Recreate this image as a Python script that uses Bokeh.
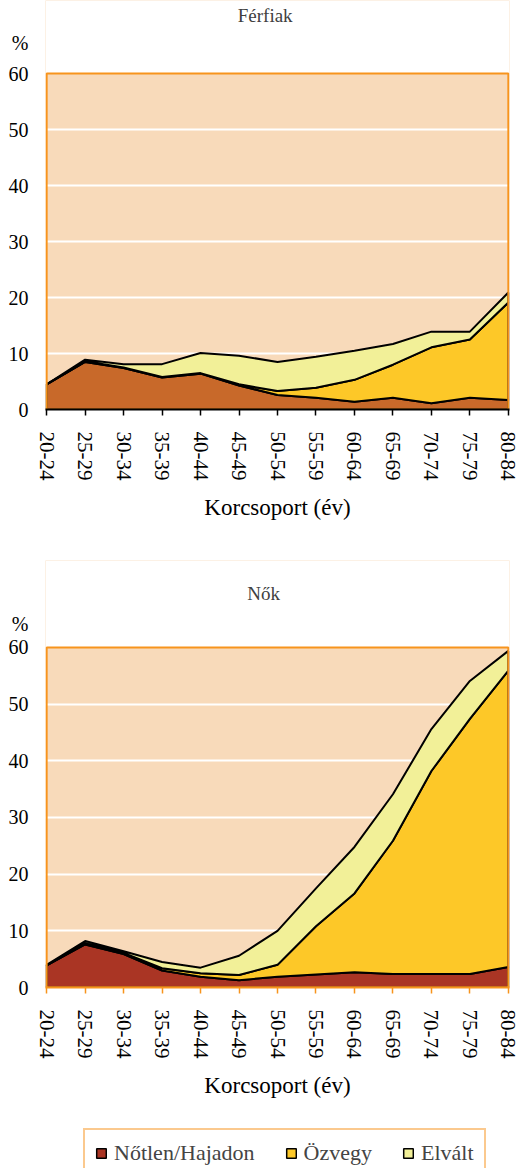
import numpy as np
from bokeh.plotting import figure
from bokeh.layouts import column
from bokeh.models import FixedTicker, Label, Legend, LegendItem, ColumnDataSource
from bokeh.embed import file_html
from bokeh.resources import INLINE

categories = ["20-24", "25-29", "30-34", "35-39", "40-44", "45-49", "50-54",
              "55-59", "60-64", "65-69", "70-74", "75-79", "80-84"]

men_notlen = [4.5, 8.5, 7.4, 5.7, 6.4, 4.3, 2.6, 2.1, 1.4, 2.1, 1.1, 2.1, 1.7]
men_ozvegy = [0.0, 0.1, 0.1, 0.1, 0.1, 0.2, 0.7, 1.8, 3.9, 5.9, 10.0, 10.4, 17.4]
men_elvalt = [0.0, 0.3, 0.6, 2.3, 3.6, 5.1, 5.2, 5.5, 5.2, 3.7, 2.8, 1.4, 1.8]

women_hajadon = [3.9, 7.6, 5.9, 3.0, 1.9, 1.3, 1.9, 2.3, 2.7, 2.4, 2.4, 2.4, 3.6]
women_ozvegy = [0.0, 0.2, 0.2, 0.4, 0.6, 0.9, 2.1, 8.5, 13.9, 23.5, 35.8, 45.0, 52.3]
women_elvalt = [0.1, 0.4, 0.3, 1.1, 1.0, 3.4, 6.0, 6.7, 8.2, 8.2, 7.4, 6.7, 3.5]

y_ticks = [0, 10, 20, 30, 40, 50, 60]
series_names = ["Nőtlen/Hajadon", "Özvegy", "Elvált"]
titles = ["Férfiak", "Nők"]
unit_label = "%"

FONT = "Liberation Serif"
ORANGE = "#F7941D"
BG = "#F8DABA"
C_MEN = "#C8692A"
C_WOMEN = "#AA3524"
C_OZV = "#FDC828"
C_ELV = "#F2F098"
XPAD = 0.03


def make_chart(title, series, colors, height, y_end, bottom, left, right,
               axis_color, unit_y, title_x, title_y):
    n = len(categories)
    x0, x1 = -XPAD, n - 1 + XPAD
    p = figure(width=517, height=height, x_range=(x0, x1),
               y_range=(0, y_end), output_backend="svg", toolbar_location=None,
               min_border_top=0, min_border_bottom=bottom,
               min_border_left=left, min_border_right=right)
    p.background_fill_color = BG
    p.border_fill_color = "white"
    p.outline_line_color = None

    ymax = y_ticks[-1]
    # white area above the plotting box (title / unit region)
    p.quad(left=[x0], right=[x1], bottom=[ymax], top=[y_end],
           fill_color="white", line_color=None)

    x = np.arange(n, dtype=float)
    lower = np.zeros(n)
    for vals, col in zip(series, colors):
        upper = lower + np.array(vals, dtype=float)
        xs = np.concatenate([x, x[::-1]])
        ys = np.concatenate([upper, lower[::-1]])
        p.patch(xs, ys, fill_color=col, line_color="black", line_width=2)
        lower = upper

    # orange plot-area border
    p.quad(left=[0], right=[n - 1], bottom=[0], top=[ymax],
           fill_color=None, line_color=ORANGE, line_width=2)

    p.xgrid.visible = False
    p.ygrid.grid_line_color = "white"
    p.ygrid.grid_line_width = 2
    p.ygrid.ticker = FixedTicker(ticks=y_ticks[1:-1])

    p.yaxis.ticker = FixedTicker(ticks=y_ticks + [unit_y])
    p.yaxis.major_label_overrides = {unit_y: unit_label}
    p.yaxis.axis_line_color = None
    p.yaxis.major_tick_line_color = None
    p.yaxis.minor_tick_line_color = None
    p.yaxis.major_tick_out = 0
    p.yaxis.major_tick_in = 0
    p.yaxis.minor_tick_out = 0
    p.yaxis.minor_tick_in = 0
    p.yaxis.major_label_standoff = 17
    p.yaxis.major_label_text_font = FONT
    p.yaxis.major_label_text_font_size = "20px"
    p.yaxis.major_label_text_color = "black"

    p.xaxis.ticker = FixedTicker(ticks=list(range(n)))
    p.xaxis.major_label_overrides = {i: c for i, c in enumerate(categories)}
    p.xaxis.major_label_orientation = "vertical"
    p.xaxis.axis_line_color = axis_color
    p.xaxis.axis_line_width = 2
    p.xaxis.major_tick_line_color = axis_color
    p.xaxis.major_tick_line_width = 1.5
    p.xaxis.major_tick_out = 6
    p.xaxis.major_tick_in = 0
    p.xaxis.minor_tick_out = 0
    p.xaxis.minor_tick_in = 0
    p.xaxis.minor_tick_line_color = None
    p.xaxis.major_label_standoff = 16
    p.xaxis.major_label_text_font = FONT
    p.xaxis.major_label_text_font_size = "21px"
    p.xaxis.major_label_text_color = "black"
    p.xaxis.axis_label = "Korcsoport (év)"
    p.xaxis.axis_label_text_font = FONT
    p.xaxis.axis_label_text_font_size = "23px"
    p.xaxis.axis_label_text_font_style = "normal"
    p.xaxis.axis_label_text_color = "black"
    p.xaxis.axis_label_standoff = 12

    p.add_layout(Label(x=title_x, y=title_y, text=title, text_font=FONT,
                       text_font_size="19px", text_color="#404040",
                       text_align="center", text_baseline="middle"))
    return p


# top chart: frame 409 px tall, 60 units = 336 px
p1 = make_chart(titles[0], [men_notlen, men_ozvegy, men_elvalt],
                [C_MEN, C_OZV, C_ELV], 560, 409 / 5.6, 151, 44, 8, "black",
                65.5, 5.68, 70.3)

# bottom chart: frame 427 px tall, 60 units = 340 px
p2 = make_chart(titles[1], [women_hajadon, women_ozvegy, women_elvalt],
                [C_WOMEN, C_OZV, C_ELV], 552, 427 / 5.667, 125, 45, 6, ORANGE,
                64.2, 5.64, 69.5)

# legend strip
p3 = figure(width=517, height=56, x_range=(0, 1), y_range=(0, 1),
            x_axis_type=None, y_axis_type=None, output_backend="svg",
            toolbar_location=None, min_border=0)
p3.outline_line_color = None
p3.grid.visible = False
p3.background_fill_color = "white"

legend_items = []
for name, col in zip(series_names, [C_WOMEN, C_OZV, C_ELV]):
    # legend swatch renderer (its single box lies outside the visible range)
    src = ColumnDataSource(data=dict(left=[-3], right=[-2], top=[-2], bottom=[-3]))
    r = p3.quad(left="left", right="right", top="top", bottom="bottom", source=src,
                fill_color=col, line_color="black", line_width=1.5)
    legend_items.append(LegendItem(label=name, renderers=[r]))

legend = Legend(items=legend_items, orientation="horizontal",
                location=(38, -10), glyph_width=12, glyph_height=12,
                label_standoff=7, spacing=30, padding=10, margin=0,
                label_text_font=FONT, label_text_font_size="22px",
                label_height=24,
                border_line_color=ORANGE, border_line_width=2,
                background_fill_color="white", background_fill_alpha=1.0)
p3.add_layout(legend, "center")

layout = column(p1, p2, p3, spacing=0)
open("out.html", "w").write(file_html(layout, INLINE))
